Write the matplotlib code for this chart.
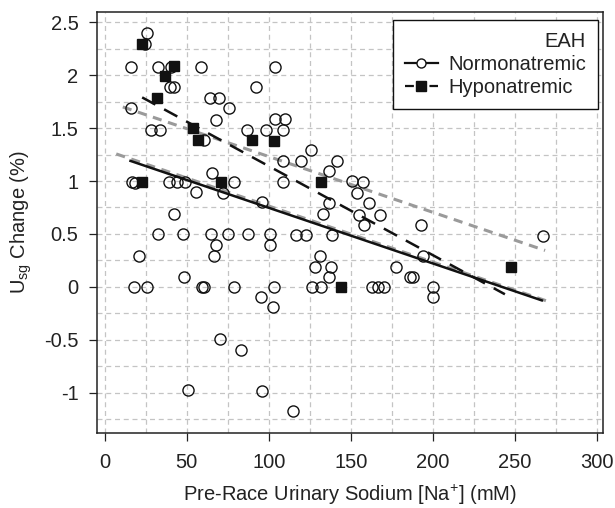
import matplotlib
matplotlib.use("Agg")
import matplotlib.pyplot as plt
from matplotlib.lines import Line2D

plt.rcParams['font.family'] = ['Liberation Sans', 'DejaVu Sans']
plt.rcParams['mathtext.fontset'] = 'custom'
plt.rcParams['mathtext.rm'] = 'Liberation Sans'
plt.rcParams['mathtext.it'] = 'Liberation Sans:italic'

# ---- data ----
norm_x = [26, 24.5, 16, 32.5, 40.5, 58.5, 104, 39.5, 42, 92.5,
          64, 69.5, 76, 16, 68, 104, 110, 28.5, 33.5, 87,
          98.5, 108.5, 60.5, 126, 108.5, 119.5, 141.5, 137, 65.5, 16.5,
          18.5, 39, 44, 49, 79, 108.5, 151, 157.5, 154, 55.5,
          72, 96, 137, 133, 42, 161, 155, 168, 158, 193,
          32.5, 48, 64.5, 75, 87.5, 101, 116.5, 123, 138.5, 68,
          101, 21, 66.5, 131.5, 128.5, 138, 136.5, 48.5, 18, 26,
          59, 60.5, 79, 103.5, 126.5, 132, 95, 102.5, 70.5, 83,
          51, 96, 114.5, 194, 177.5, 186, 188, 163, 166.5, 170,
          200, 200, 267]
norm_y = [2.40, 2.29, 2.08, 2.08, 2.08, 2.08, 2.08, 1.89, 1.89, 1.89,
          1.78, 1.78, 1.69, 1.69, 1.58, 1.59, 1.59, 1.48, 1.48, 1.48,
          1.48, 1.48, 1.39, 1.29, 1.19, 1.19, 1.19, 1.09, 1.08, 0.99,
          0.98, 0.99, 0.99, 0.99, 0.99, 0.99, 1.00, 0.99, 0.89, 0.90,
          0.89, 0.80, 0.79, 0.69, 0.69, 0.79, 0.68, 0.68, 0.58, 0.58,
          0.50, 0.50, 0.50, 0.50, 0.50, 0.50, 0.49, 0.49, 0.49, 0.40,
          0.40, 0.29, 0.29, 0.29, 0.19, 0.19, 0.09, 0.09, 0.00, 0.00,
          0.00, 0.00, 0.00, 0.00, 0.00, 0.00, -0.10, -0.19, -0.49, -0.60,
          -0.97, -0.98, -1.17, 0.29, 0.19, 0.09, 0.09, 0.00, 0.00, 0.00,
          0.00, -0.10, 0.48]

hypo_x = [23, 42, 37, 32, 54, 57, 90, 103.5, 23, 71, 132, 144, 248]
hypo_y = [2.29, 2.09, 1.99, 1.78, 1.50, 1.39, 1.39, 1.38, 0.99, 0.99, 0.99, 0.00, 0.19]

# regression / reference lines (end points: x range and y values)
norm_fit_x = [15.7, 266.5]
norm_fit_y = [1.19, -0.128]
hypo_fit_x = [22.8, 244]
hypo_fit_y = [1.79, -0.07]
grey_low_x = [7, 271.5]
grey_low_y = [1.256, -0.144]
grey_up_x = [11, 268.5]
grey_up_y = [1.70, 0.344]

xticks = [0, 50, 100, 150, 200, 250, 300]
yticks = [-1, -0.5, 0, 0.5, 1, 1.5, 2, 2.5]
ytick_labels = ['-1', '-0.5', '0', '0.5', '1', '1.5', '2', '2.5']

FS = 14.5
TXT = '#222222'

# ---- figure ----
fig = plt.figure(figsize=(6.15, 5.08), dpi=100)
ax = fig.add_axes([0.157, 0.147, 0.824, 0.830])

ax.set_xlim(-5, 304)
ax.set_ylim(-1.384, 2.60)

# grid every 25 / 0.25
ax.set_xticks([v for v in range(0, 301, 25)], minor=True)
ax.set_yticks([i * 0.25 for i in range(-5, 11)], minor=True)
ax.grid(which='both', color='#c4c4c4', linestyle=(0, (4, 3)), linewidth=0.9)
ax.set_axisbelow(True)
ax.tick_params(which='minor', length=0)

ax.set_xticks(xticks)
ax.set_xticklabels([str(t) for t in xticks])
ax.set_yticks(yticks)
ax.set_yticklabels(ytick_labels)
ax.tick_params(which='major', direction='out', length=6, width=0.9,
               labelsize=FS, colors=TXT)
ax.tick_params(axis='y', pad=7)
ax.tick_params(axis='x', pad=8)

for s in ax.spines.values():
    s.set_linewidth(1.1)
    s.set_color(TXT)

# lines
ax.plot(grey_up_x, grey_up_y, color='#9a9a9a', lw=2.2, linestyle=(0, (3, 2.2)), zorder=2)
ax.plot(grey_low_x, grey_low_y, color='#9a9a9a', lw=2.2, linestyle=(0, (3, 2.2)), zorder=2)
ax.plot(norm_fit_x, norm_fit_y, color='#111111', lw=1.8, zorder=3)
ax.plot(hypo_fit_x, hypo_fit_y, color='#111111', lw=1.8, linestyle=(0, (6, 4)), zorder=3)

# points
ax.plot(norm_x, norm_y, linestyle='none', marker='o', markersize=8,
        markerfacecolor='none', markeredgecolor='#111111', markeredgewidth=1.0, zorder=4)
ax.plot(hypo_x, hypo_y, linestyle='none', marker='s', markersize=7.5,
        markerfacecolor='#111111', markeredgecolor='#111111', zorder=5)

ax.set_xlabel('Pre-Race Urinary Sodium [Na$^{+}$] (mM)', fontsize=FS, color=TXT, labelpad=8)
ax.set_ylabel('U$_{\\mathrm{sg}}$ Change (%)', fontsize=FS, color=TXT, labelpad=7)

handles = [
    Line2D([], [], color='#111111', lw=1.6, marker='o', markersize=6.5,
           markerfacecolor='white', markeredgecolor='#111111'),
    Line2D([], [], color='#111111', lw=1.6, linestyle=(0, (4, 1.5)), marker='s', markersize=6.5,
           markerfacecolor='#111111', markeredgecolor='#111111'),
]
leg = ax.legend(handles, ['Normonatremic', 'Hyponatremic'], title='EAH',
                loc='upper right', bbox_to_anchor=(0.9895, 0.980), fontsize=FS,
                title_fontsize=FS, fancybox=False, framealpha=1, edgecolor='#111111',
                handlelength=1.65, handletextpad=0.5, borderpad=0.6, labelspacing=0.2,
                borderaxespad=0.0, alignment='right')
leg.get_frame().set_linewidth(1.0)
for t in leg.get_texts():
    t.set_color(TXT)
leg.get_title().set_color(TXT)

fig.savefig('out.png', dpi=100)
